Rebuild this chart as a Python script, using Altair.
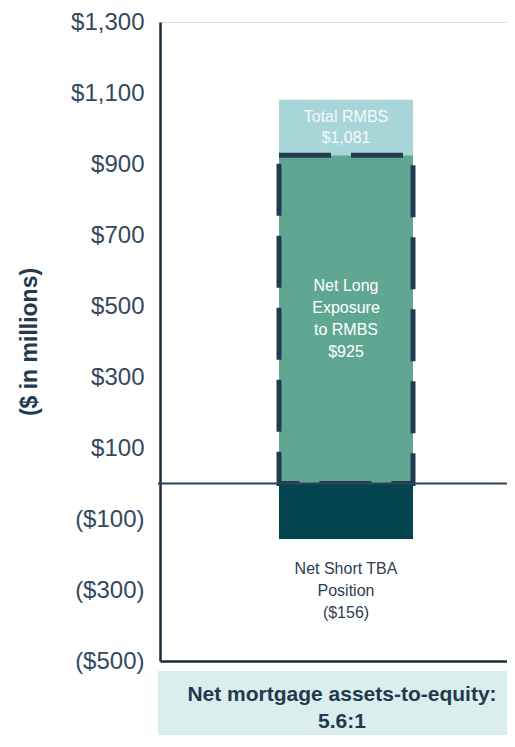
import altair as alt
import pandas as pd

# ---- data ----
categories = ["RMBS"]
total_rmbs = [1081]
net_long = [925]
net_short = [-156]
total_label = ["Total RMBS\n$1,081"]
long_label = ["Net Long\nExposure\nto RMBS\n$925"]
short_label = ["Net Short TBA\nPosition\n($156)"]
y_ticks = [-500, -300, -100, 100, 300, 500, 700, 900, 1100, 1300]
footer_text = ["Net mortgage assets-to-equity:\n5.6:1"]

df = pd.DataFrame({
    "cat": categories,
    "total": total_rmbs,
    "long": net_long,
    "short": net_short,
    "total_label": total_label,
    "long_label": long_label,
    "short_label": short_label,
})
foot = pd.DataFrame({"txt": footer_text})

W, H = 347, 639
BOTTOM = 74
FONT = "Liberation Sans"

xenc = alt.X("cat:N", axis=alt.Axis(labels=False, ticks=False, title=None, domain=True,
                                     domainColor="#1b2a3a", domainWidth=2.5),
             scale=alt.Scale(paddingInner=0, paddingOuter=0.7948, align=0.5587))
yscale = alt.Scale(domain=[-500, 1300], nice=False, zero=False)
yaxis = alt.Axis(values=y_ticks, grid=False, ticks=False, labelPadding=16,
                 labelFontSize=24, labelColor="#34495e", labelFont=FONT,
                 labelExpr="datum.value < 0 ? '($' + format(-datum.value, ',') + ')' : '$' + format(datum.value, ',')",
                 domainColor="#1b2a3a", domainWidth=2.5,
                 title="($ in millions)", titleFontSize=23, titleFont=FONT,
                 titleFontWeight="bold", titleColor="#233a4e", titlePadding=29)

base = alt.Chart(df)

light = base.mark_bar(color="#a8d5d7").encode(
    x=xenc, y=alt.Y("long:Q", scale=yscale, axis=yaxis), y2="total:Q")

green = base.mark_bar(color="#5fa792", stroke="#243a50", strokeWidth=5,
                      strokeDash=[52, 20]).encode(
    x=xenc, y=alt.Y("long:Q", scale=yscale, axis=yaxis), y2=alt.datum(0))

dark = base.mark_bar(color="#03444f").encode(
    x=xenc, y=alt.Y("short:Q", scale=yscale, axis=yaxis), y2=alt.datum(0))

zero_rule = alt.Chart(df).mark_rule(color="#2d4358", strokeWidth=2).encode(
    y=alt.Y("z:Q", scale=yscale),
    x=alt.value(-2), x2=alt.value(W)).transform_calculate(z="0")

t_total = base.mark_text(font=FONT, fontSize=16, color="#f4fafa", lineBreak="\n",
                         lineHeight=21, baseline="middle", dy=-10.5).encode(
    x=xenc, y=alt.Y("mid:Q", scale=yscale), text="total_label:N"
).transform_calculate(mid="(datum.long + datum.total) / 2")

t_long = base.mark_text(font=FONT, fontSize=16, color="#ffffff", lineBreak="\n",
                        lineHeight=22, baseline="middle", dy=-33).encode(
    x=xenc, y=alt.Y("mid:Q", scale=yscale), text="long_label:N"
).transform_calculate(mid="datum.long / 2")

t_short = base.mark_text(font=FONT, fontSize=16, color="#2d3e50", lineBreak="\n",
                         lineHeight=22, baseline="top", dy=22).encode(
    x=xenc, y=alt.Y("short:Q", scale=yscale), text="short_label:N")

foot_box = alt.Chart(foot).mark_rect(color="#daeeed").encode(
    x=alt.value(-2), x2=alt.value(W), y=alt.value(649), y2=alt.value(H + BOTTOM))

foot_text = alt.Chart(foot).mark_text(font=FONT, fontSize=21, fontWeight="bold",
                                      color="#233a4e", lineBreak="\n", lineHeight=27,
                                      baseline="middle").encode(
    x=alt.value(182), y=alt.value(673), text="txt:N")

chart = alt.layer(light, green, dark, zero_rule, t_total, t_long, t_short,
                  foot_box, foot_text).properties(
    width=W, height=H,
    autosize=alt.AutoSizeParams(type="none"),
    padding={"left": 152, "top": 14, "right": 0, "bottom": BOTTOM},
).configure_view(stroke=None).configure(background="white")

chart.save("out.html", embed_options={"renderer": "svg", "actions": False})
